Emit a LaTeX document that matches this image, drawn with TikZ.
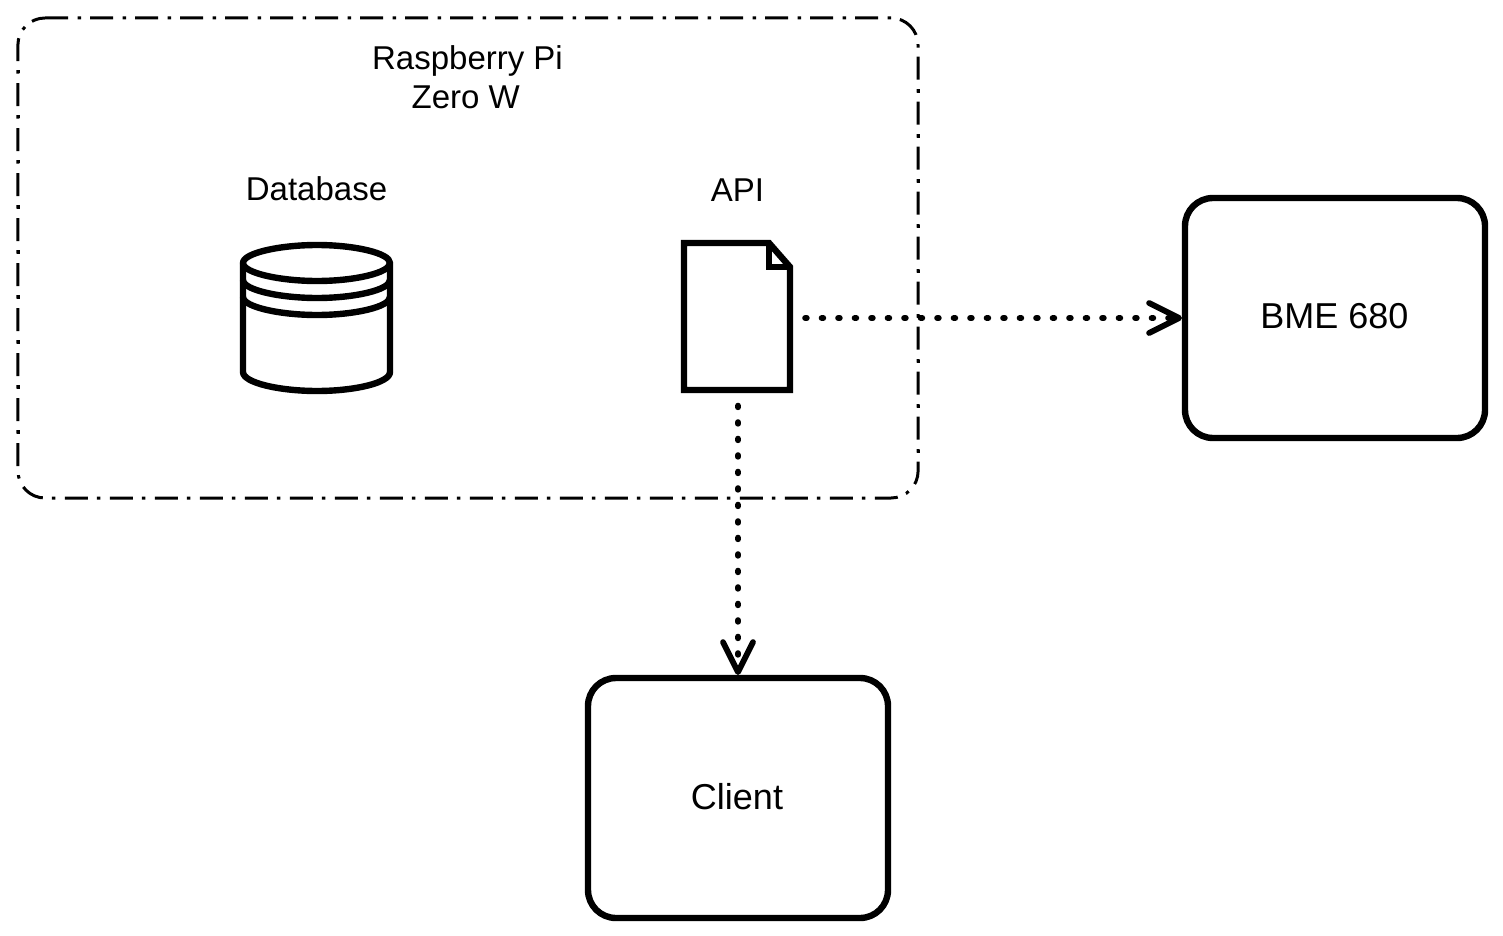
\documentclass[tikz,border=0pt]{standalone}
\usepackage{fontspec}
\setmainfont{Liberation Sans}
\usetikzlibrary{arrows.meta}
\tikzset{
  x=1pt,y=-1pt,
  ink/.style={draw=black,line width=6.4pt},
  devicebox/.style={ink,rounded corners=28pt,minimum width=300pt,minimum height=240pt,inner sep=0pt,outer sep=3pt},
  devicetext/.style={font=\fontsize{36}{40}\selectfont,inner sep=0pt},
  grouplabel/.style={font=\fontsize{33}{38}\selectfont,inner sep=0pt,align=center},
  frameline/.style={draw=black,line width=3pt,dash pattern=on 23pt off 9.5pt on 3.5pt off 9pt},
  framedot/.style={fill=black},
  link/.style={draw=black,line width=6pt,line cap=round,dash pattern=on 1.5pt off 15pt,
    -{Straight Barb[length=30pt,width=30pt,line width=5.8pt,round]}},
}
\begin{document}
\begin{tikzpicture}
\useasboundingbox (0,0) rectangle (1503,936);
% group frame
\draw[frameline] (45,18) -- (891,18)
  arc[start angle=90,end angle=0,radius=27pt] -- (918.1,471)
  arc[start angle=0,end angle=-90,radius=27pt] -- (45,498)
  arc[start angle=270,end angle=180,radius=27pt] -- (17.9,45)
  arc[start angle=180,end angle=90,radius=27pt];
\foreach \k in {0,...,8} {
  \fill[framedot] (16.5,{70+45*\k}) rectangle (19.5,{73.5+45*\k});
  \fill[framedot] (916.5,{449.5-45*\k}) rectangle (919.5,{453-45*\k});
}
\node[grouplabel] (group1) at (467.5,60.5) {Raspberry Pi};
\node[grouplabel] (group2) at (465.8,97) {Zero W};
\node[grouplabel] (dblabel) at (316.5,189) {Database};
\node[grouplabel] (apilabel) at (737.5,190) {API};
% database
\draw[ink,line join=round] (243,263) .. controls (243,253) and (280,245) .. (317,245) .. controls (354,245) and (390,253) .. (390,263)
  -- (390,372) .. controls (390,383) and (354,391) .. (317,391) .. controls (280,391) and (243,383) .. (243,372) -- cycle;
\draw[ink] (243,263) .. controls (243,273) and (280,281) .. (317,281) .. controls (354,281) and (390,273) .. (390,263);
\draw[ink] (243,280) .. controls (243,290) and (280,298) .. (317,298) .. controls (354,298) and (390,290) .. (390,280);
\draw[ink] (243,297) .. controls (243,307) and (280,315) .. (317,315) .. controls (354,315) and (390,307) .. (390,297);
\node[minimum width=147pt,minimum height=146pt,inner sep=0pt] (db) at (316.5,318) {};
% document
\node[minimum width=106pt,minimum height=148pt,inner sep=0pt] (api) at (737,316.5) {};
\draw[ink,line join=miter] (684,243) -- (769,243) -- (790,267) -- (790,390) -- (684,390) -- cycle;
\draw[ink,line join=miter] (769,243) -- (769,267) -- (790,267);
% devices
\node[devicebox] (bme) at (1335,318) {};
\node[devicetext] (bmetext) at (1334.5,316.5) {BME 680};
\node[devicebox] (client) at (738,798) {};
\node[devicetext] (clienttext) at (737,796.5) {Client};
% connectors
\coordinate (apiE) at (api.east |- bme.west);
\draw[link,shorten <=15pt] (apiE) -- (bme.west);
\coordinate (apiS) at (client.north |- api.south);
\draw[link,shorten <=15pt] (apiS) -- (client.north);
\end{tikzpicture}
\end{document}
